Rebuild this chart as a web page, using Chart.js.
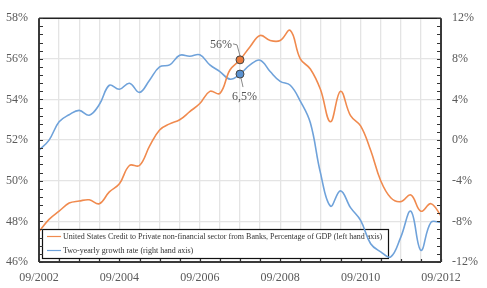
<!DOCTYPE html>
<html><head><meta charset="utf-8">
<script src="https://cdn.jsdelivr.net/npm/chart.js@4"></script>
<style>html,body{margin:0;padding:0;background:#fff}canvas{display:block}</style>
</head><body>
<canvas id="c" width="487" height="288"></canvas>
<script>
const quarters = ["09/2002","12/2002","03/2003","06/2003","09/2003","12/2003","03/2004","06/2004",
"09/2004","12/2004","03/2005","06/2005","09/2005","12/2005","03/2006","06/2006",
"09/2006","12/2006","03/2007","06/2007","09/2007","12/2007","03/2008","06/2008",
"09/2008","12/2008","03/2009","06/2009","09/2009","12/2009","03/2010","06/2010",
"09/2010","12/2010","03/2011","06/2011","09/2011","12/2011","03/2012","06/2012","09/2012"];
const creditToGDP = [47.5,48.1,48.5,48.9,49.0,49.06,48.87,49.45,49.85,50.75,50.75,51.7,52.5,52.8,53.0,53.4,
53.8,54.4,54.3,55.45,55.95,56.6,57.15,56.9,56.9,57.4,56.0,55.5,54.5,52.9,54.4,53.2,
52.7,51.5,50.0,49.16,48.97,49.3,48.5,48.87,48.27];
const growthRate = [-1.0,0.0,1.8,2.5,2.93,2.45,3.5,5.4,5.0,5.6,4.7,5.9,7.2,7.4,8.35,8.26,
8.4,7.4,6.75,6.0,6.5,7.4,7.87,6.75,5.78,5.4,3.84,1.7,-3.2,-6.5,-5.0,-6.65,
-7.9,-10.2,-11.0,-11.5,-9.55,-7.0,-10.85,-8.1,-8.1];
const leftAxis = {min:46, max:58, step:2, minor:0.4};
const rightAxis = {min:-12, max:12, step:4, minor:0.8};
const legendLabels = ["United States Credit to Private non-financial sector from Banks, Percentage of GDP (left hand axis)",
"Two-yearly growth rate (right hand axis)"];
const highlightIndex = 20;
const highlightLabels = ["56%","6,5%"];

const ORANGE = '#F08A4E', BLUE = '#6FA2DA';
const tickFont = {family:'"Liberation Serif", "DejaVu Serif", serif', size:12};
const tickColor = '#5a5a5a';

const overlay = {
  id:'overlay',
  beforeDatasetsDraw(chart){
    const ctx = chart.ctx, a = chart.chartArea;
    // legend box
    const bx = a.left+3, by = a.bottom-33, bw = 346, bh = 29;
    ctx.save();
    ctx.fillStyle='#fff';
    ctx.fillRect(bx,by,bw,bh);
    ctx.strokeStyle='#111'; ctx.lineWidth=1.2;
    ctx.strokeRect(bx+0.5,by+0.5,bw,bh);
    ctx.font='8px "Liberation Serif", serif';
    ctx.textBaseline='middle'; ctx.fillStyle='#333';
    const cols=[ORANGE,BLUE];
    for(let i=0;i<2;i++){
      const y = by+7.5+i*14;
      ctx.strokeStyle=cols[i]; ctx.lineWidth=1.2;
      ctx.beginPath(); ctx.moveTo(bx+5,y); ctx.lineTo(bx+19,y); ctx.stroke();
      ctx.fillText(legendLabels[i], bx+21, y);
    }
    ctx.restore();
  },
  afterDatasetsDraw(chart){
    const ctx = chart.ctx, a = chart.chartArea;
    const x = chart.scales.x, y1 = chart.scales.y, y2 = chart.scales.y2;
    ctx.save();
    // frame
    ctx.strokeStyle='#222'; ctx.lineWidth=1.5;
    ctx.beginPath(); ctx.moveTo(a.left,a.top); ctx.lineTo(a.right,a.top); ctx.stroke();
    ctx.strokeStyle='#3a3a3a'; ctx.lineWidth=2;
    ctx.beginPath();
    ctx.moveTo(a.left,a.top); ctx.lineTo(a.left,a.bottom);
    ctx.moveTo(a.right,a.top); ctx.lineTo(a.right,a.bottom);
    ctx.moveTo(a.left,a.bottom); ctx.lineTo(a.right,a.bottom);
    ctx.stroke();
    // minor ticks
    ctx.lineWidth=1.2; ctx.strokeStyle='#333';
    ctx.beginPath();
    for(let v=leftAxis.min; v<=leftAxis.max+1e-6; v+=leftAxis.minor){
      const py = Math.round(y1.getPixelForValue(v))+0.5;
      ctx.moveTo(a.left,py); ctx.lineTo(a.left+4,py);
    }
    for(let v=rightAxis.min; v<=rightAxis.max+1e-6; v+=rightAxis.minor){
      const py = Math.round(y2.getPixelForValue(v))+0.5;
      ctx.moveTo(a.right,py); ctx.lineTo(a.right-4,py);
    }
    for(let i=0;i<quarters.length;i+=2){
      const px = Math.round(x.getPixelForValue(i))+0.5;
      ctx.moveTo(px,a.bottom); ctx.lineTo(px,a.bottom-3);
    }
    ctx.stroke();
    // annotations
    const hx = x.getPixelForValue(highlightIndex);
    const oy = y1.getPixelForValue(creditToGDP[highlightIndex]);
    const by_ = y2.getPixelForValue(growthRate[highlightIndex]);
    ctx.strokeStyle='#888'; ctx.lineWidth=1;
    ctx.beginPath();
    ctx.moveTo(hx-7,oy-16); ctx.lineTo(hx-3,oy-15); ctx.lineTo(hx,oy-4);
    ctx.moveTo(hx+1,by_+4); ctx.lineTo(hx+3,by_+13);
    ctx.stroke();
    ctx.fillStyle='#555'; ctx.font='12px "Liberation Serif", serif';
    ctx.textBaseline='middle'; ctx.textAlign='right';
    ctx.fillText(highlightLabels[0], hx-8, oy-15);
    ctx.textAlign='left';
    ctx.fillText(highlightLabels[1], hx-8, by_+23);
    // markers on top
    const marks=[[oy,'#E97A3C'],[by_,'#5A92D1']];
    for(const [my,c] of marks){
      ctx.beginPath(); ctx.arc(hx,my,4,0,Math.PI*2);
      ctx.fillStyle=c; ctx.fill();
      ctx.strokeStyle='#444'; ctx.lineWidth=1; ctx.stroke();
    }
    ctx.restore();
  }
};

new Chart(document.getElementById('c'), {
  type:'line',
  data:{
    labels:quarters,
    datasets:[
      {data:creditToGDP, yAxisID:'y', borderColor:ORANGE, borderWidth:1.6, pointRadius:0, tension:0.4, fill:false},
      {data:growthRate, yAxisID:'y2', borderColor:BLUE, borderWidth:1.6, pointRadius:0, tension:0.4, fill:false}
    ]
  },
  options:{
    responsive:false, animation:false, devicePixelRatio:1,
    layout:{padding:{top:14,left:0,right:0,bottom:0}},
    plugins:{legend:{display:false}, tooltip:{enabled:false}},
    scales:{
      x:{type:'category', offset:false,
        grid:{color:c=>c.index%2===0?'#e4e4e4':'rgba(0,0,0,0)', lineWidth:1.3, drawTicks:false},
        border:{display:false},
        ticks:{autoSkip:false, maxRotation:0, padding:9, font:tickFont, color:tickColor,
          callback:function(v,i){return i%8===0?this.getLabelForValue(v):'';}},
        afterFit:s=>{s.height=26;}
      },
      y:{position:'left', min:leftAxis.min, max:leftAxis.max,
        grid:{color:'#e4e4e4', lineWidth:1.3, drawTicks:false}, border:{display:false},
        ticks:{stepSize:leftAxis.step, padding:11, font:tickFont, color:tickColor, callback:v=>v+'%'},
        afterFit:s=>{s.width=39;}
      },
      y2:{position:'right', min:rightAxis.min, max:rightAxis.max,
        grid:{drawOnChartArea:false, drawTicks:false}, border:{display:false},
        ticks:{stepSize:rightAxis.step, padding:11, font:tickFont, color:tickColor, callback:v=>v+'%'},
        afterFit:s=>{s.width=46;}
      }
    }
  },
  plugins:[overlay]
});
</script>
</body></html>
